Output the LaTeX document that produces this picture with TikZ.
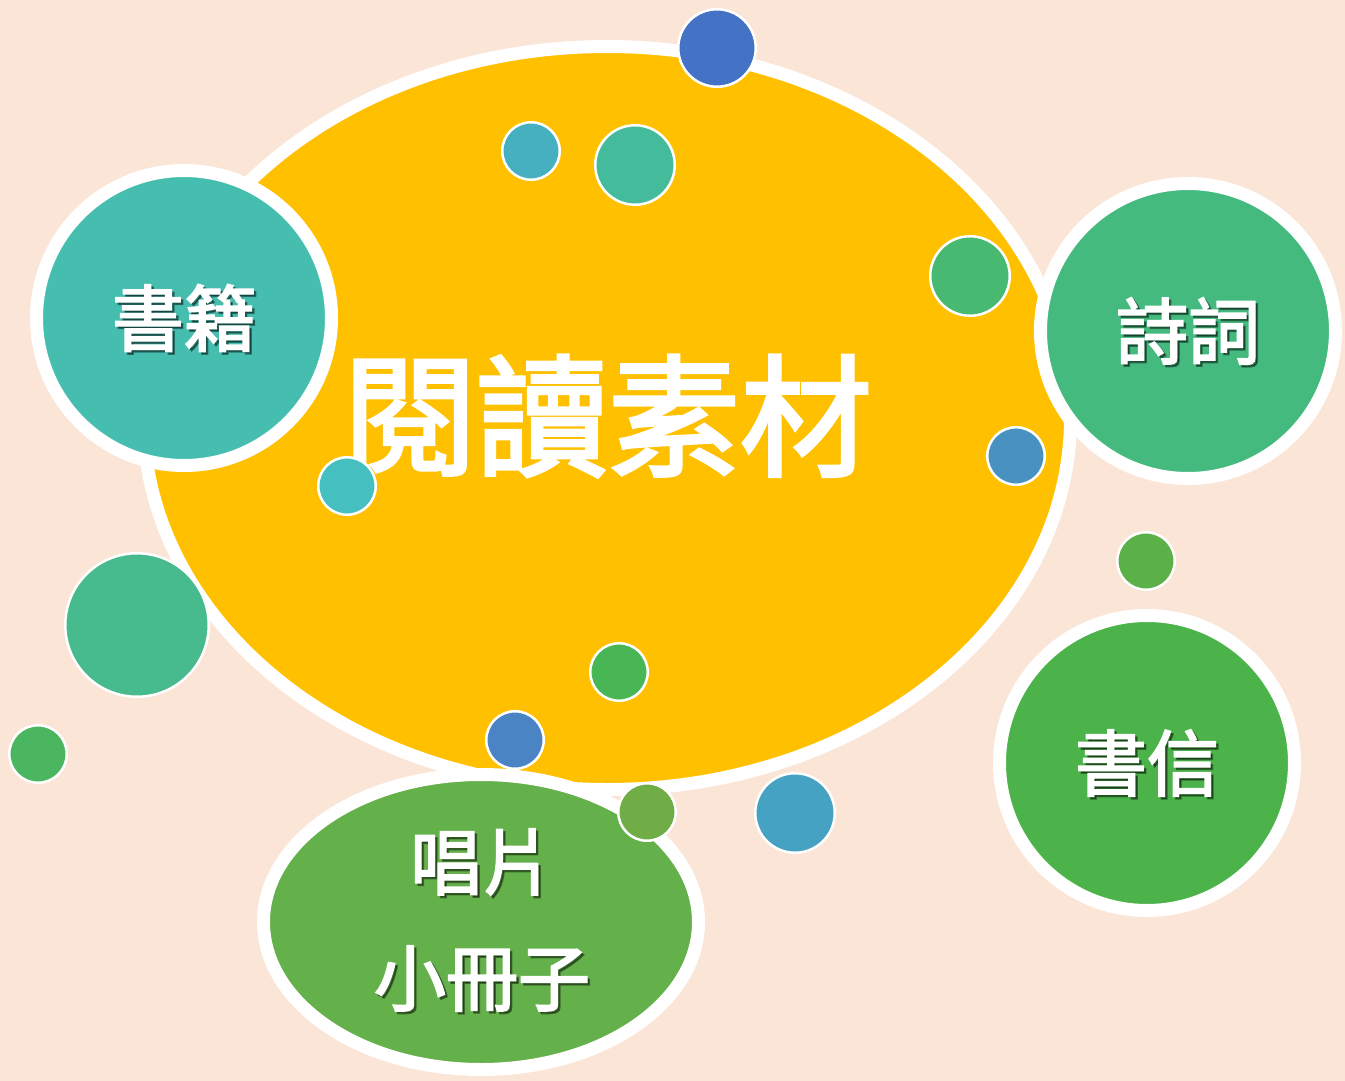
\documentclass[tikz,border=0pt]{standalone}
\usepackage{fontspec}
\newfontfamily\cjk[FakeBold=2.6]{Noto Sans CJK TC}
\usetikzlibrary{shapes.geometric}
\definecolor{bg}{HTML}{FBE5D6}
\definecolor{gold}{HTML}{FFC000}
\definecolor{cA}{HTML}{45BEB0}
\definecolor{cB}{HTML}{45BA7F}
\definecolor{cC}{HTML}{4BB34A}
\definecolor{cD}{HTML}{64B04A}
\definecolor{d1}{HTML}{4472C4}
\definecolor{d2}{HTML}{46AFC0}
\definecolor{d3}{HTML}{44BC9C}
\definecolor{d4}{HTML}{47B971}
\definecolor{d5}{HTML}{4892C2}
\definecolor{d6}{HTML}{45BFBF}
\definecolor{d7}{HTML}{5BB148}
\definecolor{d8}{HTML}{47BB8E}
\definecolor{d9}{HTML}{4BB660}
\definecolor{d10}{HTML}{49B655}
\definecolor{d11}{HTML}{4A84C4}
\definecolor{d12}{HTML}{70AD47}
\definecolor{d13}{HTML}{46A2C2}
\begin{document}
\begin{tikzpicture}[x=1pt,y=-1pt,
  bubble/.style={circle, draw=white, line width=13pt, inner sep=0pt, minimum size=295pt},
  dot/.style={circle, draw=white, line width=2.5pt, inner sep=0pt},
  lblfont/.style={font=\cjk\fontsize{72}{116}\selectfont, align=center, inner sep=0pt},
  lbl/.style={lblfont, text=white},
  shd/.style={lblfont, text=black, text opacity=0.4}]
\fill[bg] (0,0) rectangle (1345,1081);
\useasboundingbox (0,0) rectangle (1345,1081);
% main ellipse
\node[ellipse, fill=gold, draw=white, line width=13pt, minimum width=927pt, minimum height=743pt, inner sep=0pt] (main) at (607,418) {};
\node[text=white, font=\cjk\fontsize{132}{132}\selectfont, inner sep=0pt] (title) at (608,416) {閱讀素材};
% big bubbles
\node[bubble, fill=cA] (books) at (184,318) {};
\node[bubble, fill=cB] (poems) at (1188,331) {};
\node[bubble, fill=cC] (letters) at (1147,763) {};
\node[ellipse, fill=cD, draw=white, line width=13pt, minimum width=435pt, minimum height=295pt, inner sep=0pt] (records) at (481,922) {};
% dots
\node[dot, fill=d8, minimum size=143.5pt] (s8) at (137,625) {};
\node[dot, fill=d1, minimum size=77.5pt] (s1) at (717,48) {};
\node[dot, fill=d2, minimum size=57.5pt] (s2) at (531,151) {};
\node[dot, fill=d3, minimum size=79.5pt] (s3) at (635,165) {};
\node[dot, fill=d4, minimum size=79.5pt] (s4) at (970,276) {};
\node[dot, fill=d5, minimum size=57.5pt] (s5) at (1016,456) {};
\node[dot, fill=d6, minimum size=57.5pt] (s6) at (347,486) {};
\node[dot, fill=d7, minimum size=57.5pt] (s7) at (1146,561) {};
\node[dot, fill=d9, minimum size=57.5pt] (s9) at (38,754) {};
\node[dot, fill=d10, minimum size=57.5pt] (s10) at (619,672) {};
\node[dot, fill=d11, minimum size=57.5pt] (s11) at (515,740) {};
\node[dot, fill=d12, minimum size=57.5pt] (s12) at (647,812) {};
\node[dot, fill=d13, minimum size=79.5pt] (s13) at (795,813) {};
% labels with shadows
\node[shd] (booksS) at (186.5,320.5) {書籍};
\node[lbl] (booksT) at (184,318) {書籍};
\node[shd] (poemsS) at (1190.5,333.5) {詩詞};
\node[lbl] (poemsT) at (1188,331) {詩詞};
\node[shd] (lettersS) at (1149.5,765.5) {書信};
\node[lbl] (lettersT) at (1147,763) {書信};
\node[shd] (recordsS) at (484.5,922.5) {唱片\\小冊子};
\node[lbl] (recordsT) at (482,920) {唱片\\小冊子};
\end{tikzpicture}
\end{document}
